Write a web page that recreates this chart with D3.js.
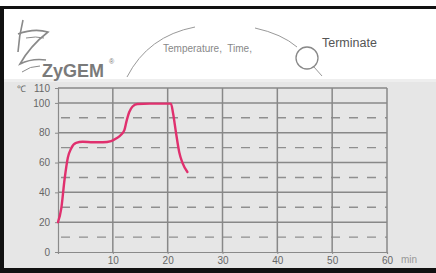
<!DOCTYPE html>
<html>
<head>
<meta charset="utf-8">
<script src="https://cdn.jsdelivr.net/npm/d3@7.9.0/dist/d3.min.js"></script>
<style>
  body { margin: 0; background: #fff; }
  svg { display: block; font-family: "Liberation Sans", Arial, sans-serif; }
</style>
</head>
<body>
<svg id="chart" width="436" height="273"></svg>
<script>
// time (min) and temperature (°C)
const timeMin = [0, 0.6, 1.2, 1.8, 2.4, 3.3, 4.5, 6.4, 8.2, 9.7, 10.6, 11.5, 12.1, 12.5, 13.0, 13.6, 14.5, 16.7, 20.6, 21.0, 21.5, 22.1, 22.7, 23.6];
const tempC = [20, 29.3, 48.8, 63.4, 69.5, 73.2, 73.9, 73.6, 73.6, 74.4, 76.1, 78.6, 81.7, 87.8, 93.9, 97.6, 99.3, 99.5, 99.5, 92.7, 80.5, 67.1, 59.8, 53.7];

const xTicks = [10, 20, 30, 40, 50, 60];
const yTicks = [0, 20, 40, 60, 80, 100, 110];
const solidY = [20, 40, 60, 80, 100];
const dashedY = [10, 30, 50, 70, 90];

const svg = d3.select('#chart');

// header + chart panel
svg.append('rect').attr('x', 0).attr('y', 0).attr('width', 436).attr('height', 273).attr('fill', '#fff');
svg.append('rect').attr('x', 3).attr('y', 79).attr('width', 433).attr('height', 190).attr('fill', '#e6e6e6');
svg.append('rect').attr('x', 3).attr('y', 79).attr('width', 433).attr('height', 3).attr('fill', '#eeeeee');

// black frame
svg.append('rect').attr('x', 2).attr('y', 6).attr('width', 434).attr('height', 3).attr('fill', '#111');
svg.append('rect').attr('x', 0).attr('y', 6).attr('width', 4).attr('height', 267).attr('fill', '#111');
svg.append('rect').attr('x', 0).attr('y', 268).attr('width', 436).attr('height', 5).attr('fill', '#111');

// logo
const logo = svg.append('g').attr('fill', 'none').attr('stroke', '#8a8a8a').attr('stroke-width', 1.6);
logo.append('path').attr('d', 'M23,20 Q19,36 18,52');
logo.append('path').attr('d', 'M18,34 Q34,28 48,32 Q30,46 20,64 Q32,58 46,60');
logo.append('path').attr('d', 'M26,38 Q36,36 44,38').attr('stroke-width', 1);
logo.append('path').attr('d', 'M22,72 Q30,66 40,66').attr('stroke-width', 1);
svg.append('text').attr('x', 42).attr('y', 77).attr('font-size', 18).attr('font-weight', 'bold')
  .attr('fill', '#7a7a7a').text('ZyGEM');
svg.append('text').attr('x', 109).attr('y', 64).attr('font-size', 7).attr('fill', '#777').text('®');

// header arcs and labels
const deco = svg.append('g').attr('fill', 'none').attr('stroke', '#999').attr('stroke-width', 1);
deco.append('path').attr('d', 'M127,77 Q148,36 195,27');
deco.append('path').attr('d', 'M255,28 Q282,34 297,47');
deco.append('circle').attr('cx', 307).attr('cy', 58).attr('r', 11).attr('stroke', '#888').attr('stroke-width', 1.3);
deco.append('path').attr('d', 'M314,67 L322,76');
svg.append('text').attr('x', 163).attr('y', 52).attr('font-size', 10).attr('fill', '#888')
  .attr('xml:space', 'preserve').text('Temperature,  Time,');
svg.append('text').attr('x', 322).attr('y', 47).attr('font-size', 12.5).attr('fill', '#555').text('Terminate');

// scales
const x = d3.scaleLinear().domain([0, 60]).range([58, 387]);
const y = d3.scaleLinear().domain([0, 110]).range([252, 88]);

// grid
const grid = svg.append('g');
grid.selectAll('line.dash').data(dashedY).join('line')
  .attr('x1', x(0) + 3).attr('x2', x(60)).attr('y1', d => y(d)).attr('y2', d => y(d))
  .attr('stroke', '#8f8f8f').attr('stroke-width', 1.4).attr('stroke-dasharray', '9,9');
grid.selectAll('line.h').data(solidY).join('line')
  .attr('x1', x(0)).attr('x2', x(60)).attr('y1', d => y(d)).attr('y2', d => y(d))
  .attr('stroke', '#888').attr('stroke-width', 1.5);
grid.selectAll('line.v').data(xTicks).join('line')
  .attr('x1', d => x(d)).attr('x2', d => x(d)).attr('y1', y(0)).attr('y2', y(110))
  .attr('stroke', '#888').attr('stroke-width', 1.5);
grid.append('line').attr('x1', x(0)).attr('x2', x(60)).attr('y1', y(110)).attr('y2', y(110))
  .attr('stroke', '#888').attr('stroke-width', 1.5);

// axes
const yAxis = svg.append('g').attr('transform', `translate(${x(0)},0)`)
  .call(d3.axisLeft(y).tickValues(yTicks).tickSize(3).tickPadding(5));
const xAxis = svg.append('g').attr('transform', `translate(0,${y(0)})`)
  .call(d3.axisBottom(x).tickValues(xTicks).tickSize(2).tickPadding(3));
[yAxis, xAxis].forEach(a => {
  a.select('.domain').attr('stroke', '#8a8a8a').attr('stroke-width', 1.2);
  a.selectAll('.tick line').attr('stroke', '#8a8a8a');
  a.selectAll('text').attr('fill', '#666').attr('font-size', 10).attr('font-family', '"Liberation Sans", Arial, sans-serif');
});
svg.append('text').attr('x', 17).attr('y', 92).attr('font-size', 9).attr('fill', '#666').text('℃');
svg.append('text').attr('x', 401).attr('y', 263).attr('font-size', 10).attr('fill', '#999').text('min');

// trace
const line = d3.line().x((d, i) => x(timeMin[i])).y(d => y(d)).curve(d3.curveMonotoneX);
svg.append('path').datum(tempC).attr('d', line).attr('fill', 'none')
  .attr('stroke', '#e0306e').attr('stroke-width', 2.4).attr('stroke-linecap', 'round');
</script>
</body>
</html>
